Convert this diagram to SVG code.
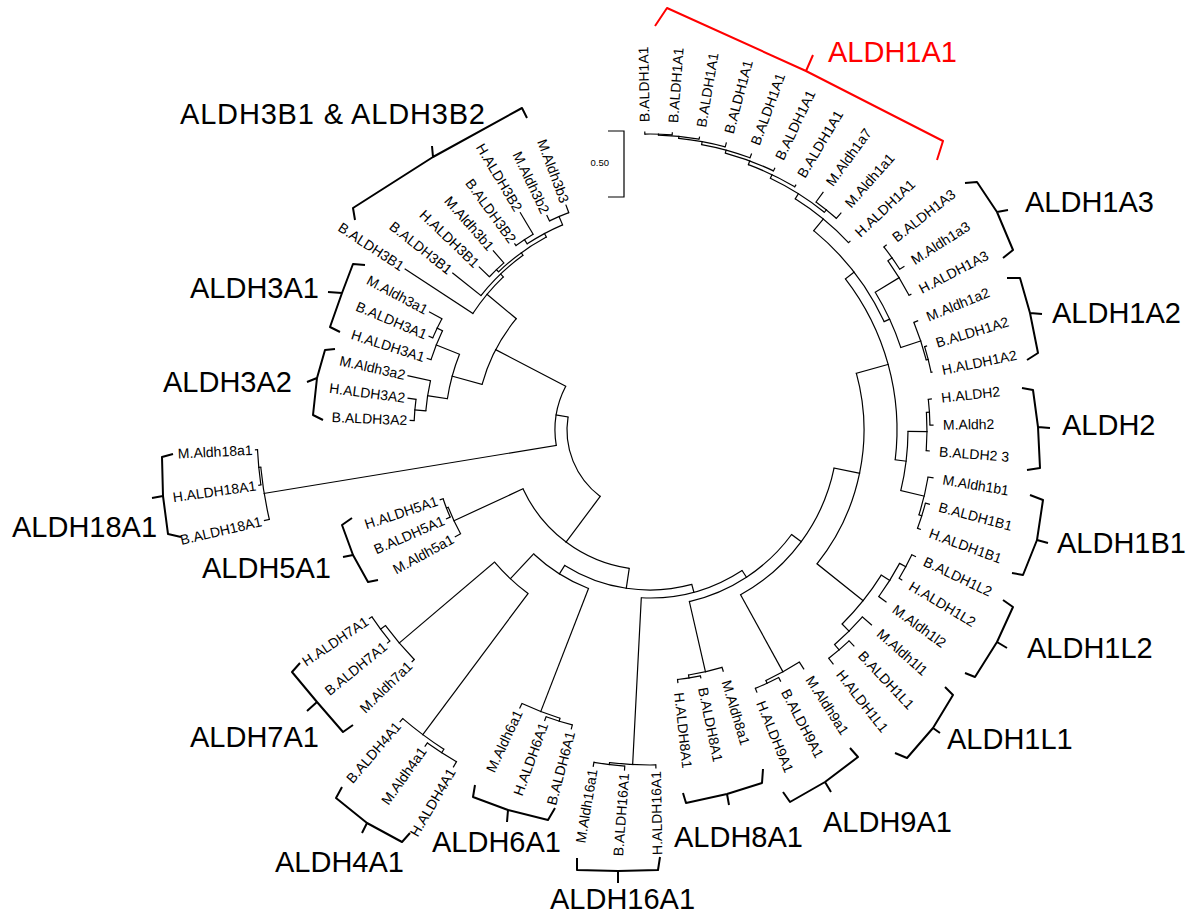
<svg xmlns="http://www.w3.org/2000/svg" width="1197" height="917" viewBox="0 0 1197 917">
<style>
.t line,.t circle{fill:none;stroke:#000;stroke-width:1.2}
.t line{stroke-linecap:square}
.lf{font-family:"Liberation Sans",Arial,sans-serif;font-size:14px;fill:#000}
.le{text-anchor:end}
.cl{font-family:"Liberation Sans",Arial,sans-serif;font-size:29px;fill:#000}
.br{fill:none;stroke:#000;stroke-width:2;stroke-linejoin:round}
.red{fill:#ff0000}
.rbr{fill:none;stroke:#ff0000;stroke-width:2;stroke-linejoin:round}
</style>
<rect width="1197" height="917" fill="#fff"/>
<g id="connectors" class="t" transform="translate(650,430)">
<circle r="83" pathLength="360" stroke-dasharray="62.24 400" transform="rotate(126.845)"/>
<line x1="83" x2="140" transform="rotate(126.845)"/>
<line x1="83" x2="95" transform="rotate(189.085)"/>
<circle r="140" pathLength="360" stroke-dasharray="56.63 400" transform="rotate(98.53)"/>
<line x1="140" x2="160" transform="rotate(98.53)"/>
<line x1="140" x2="216" transform="rotate(155.16)"/>
<circle r="216" pathLength="360" stroke-dasharray="7.755 400" transform="rotate(151.28)"/>
<circle r="218" pathLength="360" stroke-dasharray="5.17 400" transform="rotate(156.45)"/>
<line x1="216" x2="222" transform="rotate(151.28)"/>
<line x1="216" x2="218" transform="rotate(159.035)"/>
<line x1="218" x2="222" transform="rotate(156.45)"/>
<line x1="218" x2="221" transform="rotate(161.62)"/>
<circle r="160" pathLength="360" stroke-dasharray="47.34 400" transform="rotate(74.86)"/>
<line x1="160" x2="170" transform="rotate(122.2)"/>
<line x1="160" x2="168" transform="rotate(74.86)"/>
<circle r="170" pathLength="360" stroke-dasharray="21.975 400" transform="rotate(111.21)"/>
<line x1="170" x2="302" transform="rotate(111.21)"/>
<circle r="302" pathLength="360" stroke-dasharray="7.755 400" transform="rotate(107.335)"/>
<circle r="305" pathLength="360" stroke-dasharray="5.17 400" transform="rotate(104.75)"/>
<line x1="302" x2="307" transform="rotate(115.09)"/>
<line x1="302" x2="305" transform="rotate(107.335)"/>
<line x1="305" x2="309" transform="rotate(104.75)"/>
<line x1="305" x2="309" transform="rotate(109.92)"/>
<line x1="170" x2="204" transform="rotate(133.185)"/>
<circle r="204" pathLength="360" stroke-dasharray="12.93 400" transform="rotate(126.72)"/>
<line x1="204" x2="380" transform="rotate(126.72)"/>
<circle r="380" pathLength="360" stroke-dasharray="7.755 400" transform="rotate(122.845)"/>
<circle r="384" pathLength="360" stroke-dasharray="5.17 400" transform="rotate(120.26)"/>
<line x1="380" x2="384" transform="rotate(130.6)"/>
<line x1="380" x2="384" transform="rotate(122.845)"/>
<line x1="384" x2="390" transform="rotate(120.26)"/>
<line x1="384" x2="388" transform="rotate(125.43)"/>
<line x1="204" x2="329" transform="rotate(139.65)"/>
<circle r="329" pathLength="360" stroke-dasharray="7.755 400" transform="rotate(135.77)"/>
<circle r="335" pathLength="360" stroke-dasharray="5.17 400" transform="rotate(140.94)"/>
<line x1="329" x2="332" transform="rotate(135.77)"/>
<line x1="329" x2="335" transform="rotate(143.525)"/>
<line x1="335" x2="338" transform="rotate(140.94)"/>
<line x1="335" x2="338" transform="rotate(146.11)"/>
<circle r="168" pathLength="360" stroke-dasharray="36.21 400" transform="rotate(56.76)"/>
<line x1="168" x2="335" transform="rotate(92.97)"/>
<circle r="335" pathLength="360" stroke-dasharray="7.94 400" transform="rotate(89)"/>
<circle r="337" pathLength="360" stroke-dasharray="5.29 400" transform="rotate(94.29)"/>
<line x1="335" x2="338" transform="rotate(89)"/>
<line x1="335" x2="337" transform="rotate(96.94)"/>
<line x1="337" x2="341" transform="rotate(94.29)"/>
<line x1="337" x2="341" transform="rotate(99.58)"/>
<line x1="168" x2="176" transform="rotate(56.76)"/>
<circle r="176" pathLength="360" stroke-dasharray="40.65 400" transform="rotate(36.43)"/>
<line x1="176" x2="248" transform="rotate(77.08)"/>
<circle r="248" pathLength="360" stroke-dasharray="7.95 400" transform="rotate(73.11)"/>
<circle r="251" pathLength="360" stroke-dasharray="5.29 400" transform="rotate(78.41)"/>
<line x1="248" x2="252" transform="rotate(73.11)"/>
<line x1="248" x2="251" transform="rotate(81.06)"/>
<line x1="251" x2="253" transform="rotate(78.41)"/>
<line x1="251" x2="254" transform="rotate(83.7)"/>
<line x1="176" x2="188" transform="rotate(36.43)"/>
<circle r="188" pathLength="360" stroke-dasharray="49.54 400" transform="rotate(11.66)"/>
<line x1="188" x2="276" transform="rotate(61.2)"/>
<circle r="276" pathLength="360" stroke-dasharray="7.95 400" transform="rotate(57.23)"/>
<circle r="279" pathLength="360" stroke-dasharray="5.29 400" transform="rotate(62.53)"/>
<line x1="276" x2="284" transform="rotate(57.23)"/>
<line x1="276" x2="279" transform="rotate(65.18)"/>
<line x1="279" x2="283" transform="rotate(62.53)"/>
<line x1="279" x2="283" transform="rotate(67.82)"/>
<line x1="188" x2="214" transform="rotate(11.66)"/>
<circle r="214" pathLength="360" stroke-dasharray="54.09 400" transform="rotate(-15.39)"/>
<line x1="214" x2="273" transform="rotate(38.7)"/>
<circle r="273" pathLength="360" stroke-dasharray="13.18 400" transform="rotate(32.11)"/>
<line x1="273" x2="283" transform="rotate(32.11)"/>
<circle r="283" pathLength="360" stroke-dasharray="7.94 400" transform="rotate(28.12)"/>
<circle r="290" pathLength="360" stroke-dasharray="5.29 400" transform="rotate(25.47)"/>
<line x1="283" x2="292" transform="rotate(36.06)"/>
<line x1="283" x2="290" transform="rotate(28.12)"/>
<line x1="290" x2="294" transform="rotate(25.47)"/>
<line x1="290" x2="293" transform="rotate(30.76)"/>
<line x1="273" x2="283" transform="rotate(45.29)"/>
<circle r="283" pathLength="360" stroke-dasharray="7.94 400" transform="rotate(41.35)"/>
<circle r="290" pathLength="360" stroke-dasharray="5.3 400" transform="rotate(46.64)"/>
<line x1="283" x2="295" transform="rotate(41.35)"/>
<line x1="283" x2="290" transform="rotate(49.29)"/>
<line x1="290" x2="297" transform="rotate(46.64)"/>
<line x1="290" x2="297" transform="rotate(51.94)"/>
<line x1="214" x2="247" transform="rotate(-15.39)"/>
<circle r="247" pathLength="360" stroke-dasharray="44.66 400" transform="rotate(-37.72)"/>
<line x1="247" x2="258" transform="rotate(6.94)"/>
<circle r="258" pathLength="360" stroke-dasharray="13.24 400" transform="rotate(0.32)"/>
<line x1="258" x2="277" transform="rotate(0.32)"/>
<circle r="277" pathLength="360" stroke-dasharray="7.94 400" transform="rotate(-3.65)"/>
<circle r="280" pathLength="360" stroke-dasharray="5.3 400" transform="rotate(-6.3)"/>
<line x1="277" x2="280" transform="rotate(4.29)"/>
<line x1="277" x2="280" transform="rotate(-3.65)"/>
<line x1="280" x2="283" transform="rotate(-6.3)"/>
<line x1="280" x2="283" transform="rotate(-1)"/>
<line x1="258" x2="282" transform="rotate(13.56)"/>
<circle r="282" pathLength="360" stroke-dasharray="7.94 400" transform="rotate(9.59)"/>
<circle r="285" pathLength="360" stroke-dasharray="5.29 400" transform="rotate(14.88)"/>
<line x1="282" x2="287" transform="rotate(9.59)"/>
<line x1="282" x2="285" transform="rotate(17.53)"/>
<line x1="285" x2="289" transform="rotate(14.88)"/>
<line x1="285" x2="288" transform="rotate(20.17)"/>
<line x1="247" x2="258" transform="rotate(-37.72)"/>
<circle r="258" pathLength="360" stroke-dasharray="25.78 400" transform="rotate(-50.61)"/>
<line x1="258" x2="264" transform="rotate(-24.83)"/>
<circle r="264" pathLength="360" stroke-dasharray="13.23 400" transform="rotate(-31.44)"/>
<line x1="264" x2="292" transform="rotate(-31.44)"/>
<circle r="292" pathLength="360" stroke-dasharray="7.945 400" transform="rotate(-35.415)"/>
<circle r="297" pathLength="360" stroke-dasharray="5.29 400" transform="rotate(-38.06)"/>
<line x1="292" x2="294" transform="rotate(-27.47)"/>
<line x1="292" x2="297" transform="rotate(-35.415)"/>
<line x1="297" x2="300" transform="rotate(-38.06)"/>
<line x1="297" x2="302" transform="rotate(-32.77)"/>
<line x1="264" x2="285" transform="rotate(-18.21)"/>
<circle r="285" pathLength="360" stroke-dasharray="7.945 400" transform="rotate(-22.18)"/>
<circle r="287" pathLength="360" stroke-dasharray="5.29 400" transform="rotate(-16.88)"/>
<line x1="285" x2="289" transform="rotate(-22.18)"/>
<line x1="285" x2="287" transform="rotate(-14.235)"/>
<line x1="287" x2="289" transform="rotate(-16.88)"/>
<line x1="287" x2="288" transform="rotate(-11.59)"/>
<line x1="258" x2="273" transform="rotate(-50.61)"/>
<circle r="273" pathLength="360" stroke-dasharray="14.52 400" transform="rotate(-57.87)"/>
<line x1="273" x2="275" transform="rotate(-43.35)"/>
<line x1="273" x2="279" transform="rotate(-57.87)"/>
<circle r="279" pathLength="360" stroke-dasharray="13.15 400" transform="rotate(-64.45)"/>
<line x1="279" x2="282" transform="rotate(-51.3)"/>
<circle r="282" pathLength="360" stroke-dasharray="5.29 400" transform="rotate(-53.94)"/>
<line x1="282" x2="294" transform="rotate(-53.94)"/>
<line x1="282" x2="289" transform="rotate(-48.65)"/>
<line x1="279" x2="283" transform="rotate(-64.45)"/>
<circle r="283" pathLength="360" stroke-dasharray="10.42 400" transform="rotate(-69.66)"/>
<line x1="283" x2="285" transform="rotate(-59.24)"/>
<line x1="283" x2="287" transform="rotate(-69.66)"/>
<circle r="287" pathLength="360" stroke-dasharray="10.26 400" transform="rotate(-74.79)"/>
<line x1="287" x2="290" transform="rotate(-64.53)"/>
<line x1="287" x2="290" transform="rotate(-74.79)"/>
<circle r="290" pathLength="360" stroke-dasharray="9.93 400" transform="rotate(-79.75)"/>
<line x1="290" x2="294" transform="rotate(-69.82)"/>
<line x1="290" x2="293" transform="rotate(-79.75)"/>
<circle r="293" pathLength="360" stroke-dasharray="9.26 400" transform="rotate(-84.38)"/>
<line x1="293" x2="297" transform="rotate(-75.12)"/>
<line x1="293" x2="295" transform="rotate(-84.38)"/>
<circle r="295" pathLength="360" stroke-dasharray="7.95 400" transform="rotate(-88.36)"/>
<line x1="295" x2="297" transform="rotate(-80.41)"/>
<line x1="295" x2="296" transform="rotate(-88.36)"/>
<circle r="296" pathLength="360" stroke-dasharray="5.29 400" transform="rotate(-91)"/>
<line x1="296" x2="298" transform="rotate(-91)"/>
<line x1="296" x2="298" transform="rotate(-85.71)"/>
<circle r="95" pathLength="360" stroke-dasharray="36.83 400" transform="rotate(170.67)"/>
<line x1="95" x2="391" transform="rotate(170.67)"/>
<circle r="391" pathLength="360" stroke-dasharray="7.755 400" transform="rotate(166.79)"/>
<circle r="393" pathLength="360" stroke-dasharray="5.17 400" transform="rotate(171.96)"/>
<line x1="391" x2="396" transform="rotate(166.79)"/>
<line x1="391" x2="393" transform="rotate(174.545)"/>
<line x1="393" x2="395" transform="rotate(171.96)"/>
<line x1="393" x2="395" transform="rotate(177.13)"/>
<line x1="95" x2="174" transform="rotate(207.5)"/>
<circle r="174" pathLength="360" stroke-dasharray="24.555 400" transform="rotate(195.225)"/>
<line x1="174" x2="205" transform="rotate(195.225)"/>
<circle r="205" pathLength="360" stroke-dasharray="12.93 400" transform="rotate(188.76)"/>
<line x1="205" x2="225" transform="rotate(188.76)"/>
<circle r="225" pathLength="360" stroke-dasharray="7.755 400" transform="rotate(184.885)"/>
<circle r="236" pathLength="360" stroke-dasharray="5.17 400" transform="rotate(182.3)"/>
<line x1="225" x2="248" transform="rotate(192.64)"/>
<line x1="225" x2="236" transform="rotate(184.885)"/>
<line x1="236" x2="240" transform="rotate(182.3)"/>
<line x1="236" x2="244" transform="rotate(187.47)"/>
<line x1="205" x2="230" transform="rotate(201.69)"/>
<circle r="230" pathLength="360" stroke-dasharray="7.755 400" transform="rotate(197.81)"/>
<circle r="236" pathLength="360" stroke-dasharray="5.17 400" transform="rotate(202.98)"/>
<line x1="230" x2="234" transform="rotate(197.81)"/>
<line x1="230" x2="236" transform="rotate(205.565)"/>
<line x1="236" x2="240" transform="rotate(202.98)"/>
<line x1="236" x2="250" transform="rotate(208.15)"/>
<line x1="174" x2="212" transform="rotate(219.78)"/>
<circle r="212" pathLength="360" stroke-dasharray="12.925 400" transform="rotate(213.32)"/>
<line x1="212" x2="293" transform="rotate(213.32)"/>
<line x1="212" x2="216" transform="rotate(226.245)"/>
<circle r="216" pathLength="360" stroke-dasharray="15.51 400" transform="rotate(218.49)"/>
<line x1="216" x2="252" transform="rotate(218.49)"/>
<line x1="216" x2="219" transform="rotate(234)"/>
<circle r="219" pathLength="360" stroke-dasharray="15.51 400" transform="rotate(226.245)"/>
<line x1="219" x2="222" transform="rotate(226.245)"/>
<circle r="222" pathLength="360" stroke-dasharray="5.17 400" transform="rotate(223.66)"/>
<line x1="222" x2="236" transform="rotate(223.66)"/>
<line x1="222" x2="238" transform="rotate(228.83)"/>
<line x1="219" x2="223" transform="rotate(241.755)"/>
<circle r="223" pathLength="360" stroke-dasharray="10.34 400" transform="rotate(236.585)"/>
<line x1="223" x2="228" transform="rotate(236.585)"/>
<circle r="228" pathLength="360" stroke-dasharray="5.17 400" transform="rotate(234)"/>
<line x1="228" x2="230" transform="rotate(234)"/>
<line x1="228" x2="253" transform="rotate(239.17)"/>
<line x1="223" x2="232" transform="rotate(246.925)"/>
<circle r="232" pathLength="360" stroke-dasharray="5.17 400" transform="rotate(244.34)"/>
<line x1="232" x2="238" transform="rotate(244.34)"/>
<line x1="232" x2="240" transform="rotate(249.51)"/>
</g>
<g id="leaves" transform="translate(650,430)">
<text id="leaf0" class="lf" transform="rotate(-91)" x="308" dy=".35em">B.ALDH1A1</text>
<text id="leaf1" class="lf" transform="rotate(-85.71)" x="308" dy=".35em">B.ALDH1A1</text>
<text id="leaf2" class="lf" transform="rotate(-80.41)" x="307" dy=".35em">B.ALDH1A1</text>
<text id="leaf3" class="lf" transform="rotate(-75.12)" x="307" dy=".35em">B.ALDH1A1</text>
<text id="leaf4" class="lf" transform="rotate(-69.82)" x="304" dy=".35em">B.ALDH1A1</text>
<text id="leaf5" class="lf" transform="rotate(-64.53)" x="300" dy=".35em">B.ALDH1A1</text>
<text id="leaf6" class="lf" transform="rotate(-59.24)" x="295" dy=".35em">B.ALDH1A1</text>
<text id="leaf7" class="lf" transform="rotate(-53.94)" x="304" dy=".35em">M.Aldh1a7</text>
<text id="leaf8" class="lf" transform="rotate(-48.65)" x="299" dy=".35em">M.Aldh1a1</text>
<text id="leaf9" class="lf" transform="rotate(-43.35)" x="285" dy=".35em">H.ALDH1A1</text>
<text id="leaf10" class="lf" transform="rotate(-38.06)" x="310" dy=".35em">B.ALDH1A3</text>
<text id="leaf11" class="lf" transform="rotate(-32.77)" x="312" dy=".35em">M.Aldh1a3</text>
<text id="leaf12" class="lf" transform="rotate(-27.47)" x="304" dy=".35em">H.ALDH1A3</text>
<text id="leaf13" class="lf" transform="rotate(-22.18)" x="299" dy=".35em">M.Aldh1a2</text>
<text id="leaf14" class="lf" transform="rotate(-16.88)" x="299" dy=".35em">B.ALDH1A2</text>
<text id="leaf15" class="lf" transform="rotate(-11.59)" x="298" dy=".35em">H.ALDH1A2</text>
<text id="leaf16" class="lf" transform="rotate(-6.3)" x="293" dy=".35em">H.ALDH2</text>
<text id="leaf17" class="lf" transform="rotate(-1)" x="293" dy=".35em">M.Aldh2</text>
<text id="leaf18" class="lf" transform="rotate(4.29)" x="290" dy=".35em">B.ALDH2 3</text>
<text id="leaf19" class="lf" transform="rotate(9.59)" x="297" dy=".35em">M.Aldh1b1</text>
<text id="leaf20" class="lf" transform="rotate(14.88)" x="299" dy=".35em">B.ALDH1B1</text>
<text id="leaf21" class="lf" transform="rotate(20.17)" x="298" dy=".35em">H.ALDH1B1</text>
<text id="leaf22" class="lf" transform="rotate(25.47)" x="304" dy=".35em">B.ALDH1L2</text>
<text id="leaf23" class="lf" transform="rotate(30.76)" x="303" dy=".35em">H.ALDH1L2</text>
<text id="leaf24" class="lf" transform="rotate(36.06)" x="302" dy=".35em">M.Aldh1l2</text>
<text id="leaf25" class="lf" transform="rotate(41.35)" x="305" dy=".35em">M.Aldh1l1</text>
<text id="leaf26" class="lf" transform="rotate(46.64)" x="307" dy=".35em">B.ALDH1L1</text>
<text id="leaf27" class="lf" transform="rotate(51.94)" x="307" dy=".35em">H.ALDH1L1</text>
<text id="leaf28" class="lf" transform="rotate(57.23)" x="294" dy=".35em">M.Aldh9a1</text>
<text id="leaf29" class="lf" transform="rotate(62.53)" x="293" dy=".35em">B.ALDH9A1</text>
<text id="leaf30" class="lf" transform="rotate(67.82)" x="293" dy=".35em">H.ALDH9A1</text>
<text id="leaf31" class="lf" transform="rotate(73.11)" x="262" dy=".35em">M.Aldh8a1</text>
<text id="leaf32" class="lf" transform="rotate(78.41)" x="263" dy=".35em">B.ALDH8A1</text>
<text id="leaf33" class="lf" transform="rotate(83.7)" x="264" dy=".35em">H.ALDH8A1</text>
<text id="leaf34" class="lf le" transform="rotate(269)" x="-341" dy=".35em">H.ALDH16A1</text>
<text id="leaf35" class="lf le" transform="rotate(274.29)" x="-344" dy=".35em">B.ALDH16A1</text>
<text id="leaf36" class="lf le" transform="rotate(279.58)" x="-344" dy=".35em">M.Aldh16a1</text>
<text id="leaf37" class="lf le" transform="rotate(284.75)" x="-312" dy=".35em">B.ALDH6A1</text>
<text id="leaf38" class="lf le" transform="rotate(289.92)" x="-312" dy=".35em">H.ALDH6A1</text>
<text id="leaf39" class="lf le" transform="rotate(295.09)" x="-310" dy=".35em">M.Aldh6a1</text>
<text id="leaf40" class="lf le" transform="rotate(300.26)" x="-393" dy=".35em">H.ALDH4A1</text>
<text id="leaf41" class="lf le" transform="rotate(305.43)" x="-391" dy=".35em">M.Aldh4a1</text>
<text id="leaf42" class="lf le" transform="rotate(310.6)" x="-387" dy=".35em">B.ALDH4A1</text>
<text id="leaf43" class="lf le" transform="rotate(315.77)" x="-335" dy=".35em">M.Aldh7a1</text>
<text id="leaf44" class="lf le" transform="rotate(320.94)" x="-341" dy=".35em">B.ALDH7A1</text>
<text id="leaf45" class="lf le" transform="rotate(326.11)" x="-341" dy=".35em">H.ALDH7A1</text>
<text id="leaf46" class="lf le" transform="rotate(331.28)" x="-225" dy=".35em">M.Aldh5a1</text>
<text id="leaf47" class="lf le" transform="rotate(336.45)" x="-225" dy=".35em">B.ALDH5A1</text>
<text id="leaf48" class="lf le" transform="rotate(341.62)" x="-224" dy=".35em">H.ALDH5A1</text>
<text id="leaf49" class="lf le" transform="rotate(346.79)" x="-399" dy=".35em">B.ALDH18A1</text>
<text id="leaf50" class="lf le" transform="rotate(351.96)" x="-398" dy=".35em">H.ALDH18A1</text>
<text id="leaf51" class="lf le" transform="rotate(357.13)" x="-398" dy=".35em">M.Aldh18a1</text>
<text id="leaf52" class="lf le" transform="rotate(2.3)" x="-243" dy=".35em">B.ALDH3A2</text>
<text id="leaf53" class="lf le" transform="rotate(7.47)" x="-247" dy=".35em">H.ALDH3A2</text>
<text id="leaf54" class="lf le" transform="rotate(12.64)" x="-251" dy=".35em">M.Aldh3a2</text>
<text id="leaf55" class="lf le" transform="rotate(17.81)" x="-237" dy=".35em">H.ALDH3A1</text>
<text id="leaf56" class="lf le" transform="rotate(22.98)" x="-243" dy=".35em">B.ALDH3A1</text>
<text id="leaf57" class="lf le" transform="rotate(28.15)" x="-253" dy=".35em">M.Aldh3a1</text>
<text id="leaf58" class="lf le" transform="rotate(33.32)" x="-296" dy=".35em">B.ALDH3B1</text>
<text id="leaf59" class="lf le" transform="rotate(38.49)" x="-255" dy=".35em">B.ALDH3B1</text>
<text id="leaf60" class="lf le" transform="rotate(43.66)" x="-239" dy=".35em">H.ALDH3B1</text>
<text id="leaf61" class="lf le" transform="rotate(48.83)" x="-241" dy=".35em">M.Aldh3b1</text>
<text id="leaf62" class="lf le" transform="rotate(54)" x="-233" dy=".35em">B.ALDH3B2</text>
<text id="leaf63" class="lf le" transform="rotate(59.17)" x="-256" dy=".35em">H.ALDH3B2</text>
<text id="leaf64" class="lf le" transform="rotate(64.34)" x="-241" dy=".35em">M.Aldh3b2</text>
<text id="leaf65" class="lf le" transform="rotate(69.51)" x="-243" dy=".35em">M.Aldh3b3</text>
</g>
<g id="scale">
<path d="M608,131H624V197H608" fill="none" stroke="#000" stroke-width="1.2"/>
<text x="609" y="166" text-anchor="end" font-family="'Liberation Sans',Arial,sans-serif" font-size="9.5">0.50</text>
</g>
<g id="ALDH1A1">
<path class="rbr" d="M655,26L667,8L806,71L813,55M806,71L943,141L937,160"/>
<text class="cl red" x="828" y="62" font-size="28">ALDH1A1</text>
</g>
<g id="ALDH3B">
<path class="br" d="M355,220L353,208L433,157L432,146M433,157L522,108L527,118"/>
<text class="cl" x="180" y="124" textLength="305">ALDH3B1 &amp; ALDH3B2</text>
</g>
<g id="ALDH3A1">
<path class="br" d="M365,265L353,264L342,293L328,292M342,293L330,327L340,332"/>
<text class="cl" x="190" y="298">ALDH3A1</text>
</g>
<g id="ALDH3A2">
<path class="br" d="M335,349L325,350L317,378L307,382M317,378L313,415L323,420"/>
<text class="cl" x="163" y="392">ALDH3A2</text>
</g>
<g id="ALDH18A1">
<path class="br" d="M173,454L162,457L163,496L152,498M163,496L168,534L181,537"/>
<text class="cl" x="12" y="537">ALDH18A1</text>
</g>
<g id="ALDH5A1">
<path class="br" d="M352,518L342,525L353,555L343,557M353,555L368,582L378,580"/>
<text class="cl" x="202" y="578">ALDH5A1</text>
</g>
<g id="ALDH7A1">
<path class="br" d="M300,663L292,672L317,702L307,711M317,702L343,732L353,725"/>
<text class="cl" x="190" y="747">ALDH7A1</text>
</g>
<g id="ALDH4A1">
<path class="br" d="M342,787L336,798L367,823L362,833M367,823L402,842L410,833"/>
<text class="cl" x="275" y="872">ALDH4A1</text>
</g>
<g id="ALDH6A1">
<path class="br" d="M475,785L473,797L508,810L507,822M508,810L548,820L555,808"/>
<text class="cl" x="432" y="852">ALDH6A1</text>
</g>
<g id="ALDH16A1">
<path class="br" d="M577,858L577,870L618,871L618,883M618,871L658,870L660,857"/>
<text class="cl" x="550" y="909">ALDH16A1</text>
</g>
<g id="ALDH8A1">
<path class="br" d="M683,793L686,803L727,794L729,805M727,794L762,783L763,769"/>
<text class="cl" x="674" y="847">ALDH8A1</text>
</g>
<g id="ALDH9A1">
<path class="br" d="M783,792L790,802L825,782L831,792M825,782L858,757L850,748"/>
<text class="cl" x="823" y="832">ALDH9A1</text>
</g>
<g id="ALDH1L1">
<path class="br" d="M945,687L953,695L933,728L940,733M933,728L907,758L895,753"/>
<text class="cl" x="947" y="749">ALDH1L1</text>
</g>
<g id="ALDH1L2">
<path class="br" d="M1003,600L1013,607L997,642L1007,648M997,642L975,677L965,673"/>
<text class="cl" x="1027" y="658">ALDH1L2</text>
</g>
<g id="ALDH1B1">
<path class="br" d="M1030,495L1043,500L1037,540L1048,543M1037,540L1023,575L1012,573"/>
<text class="cl" x="1057" y="553">ALDH1B1</text>
</g>
<g id="ALDH2">
<path class="br" d="M1022,388L1033,390L1038,427L1050,428M1038,427L1040,468L1027,470"/>
<text class="cl" x="1062" y="435">ALDH2</text>
</g>
<g id="ALDH1A2">
<path class="br" d="M1007,278L1020,278L1030,313L1042,314M1030,313L1038,353L1027,360"/>
<text class="cl" x="1052" y="323">ALDH1A2</text>
</g>
<g id="ALDH1A3">
<path class="br" d="M965,183L977,182L997,212L1008,210M997,212L1013,250L1003,258"/>
<text class="cl" x="1025" y="212">ALDH1A3</text>
</g>
</svg>
